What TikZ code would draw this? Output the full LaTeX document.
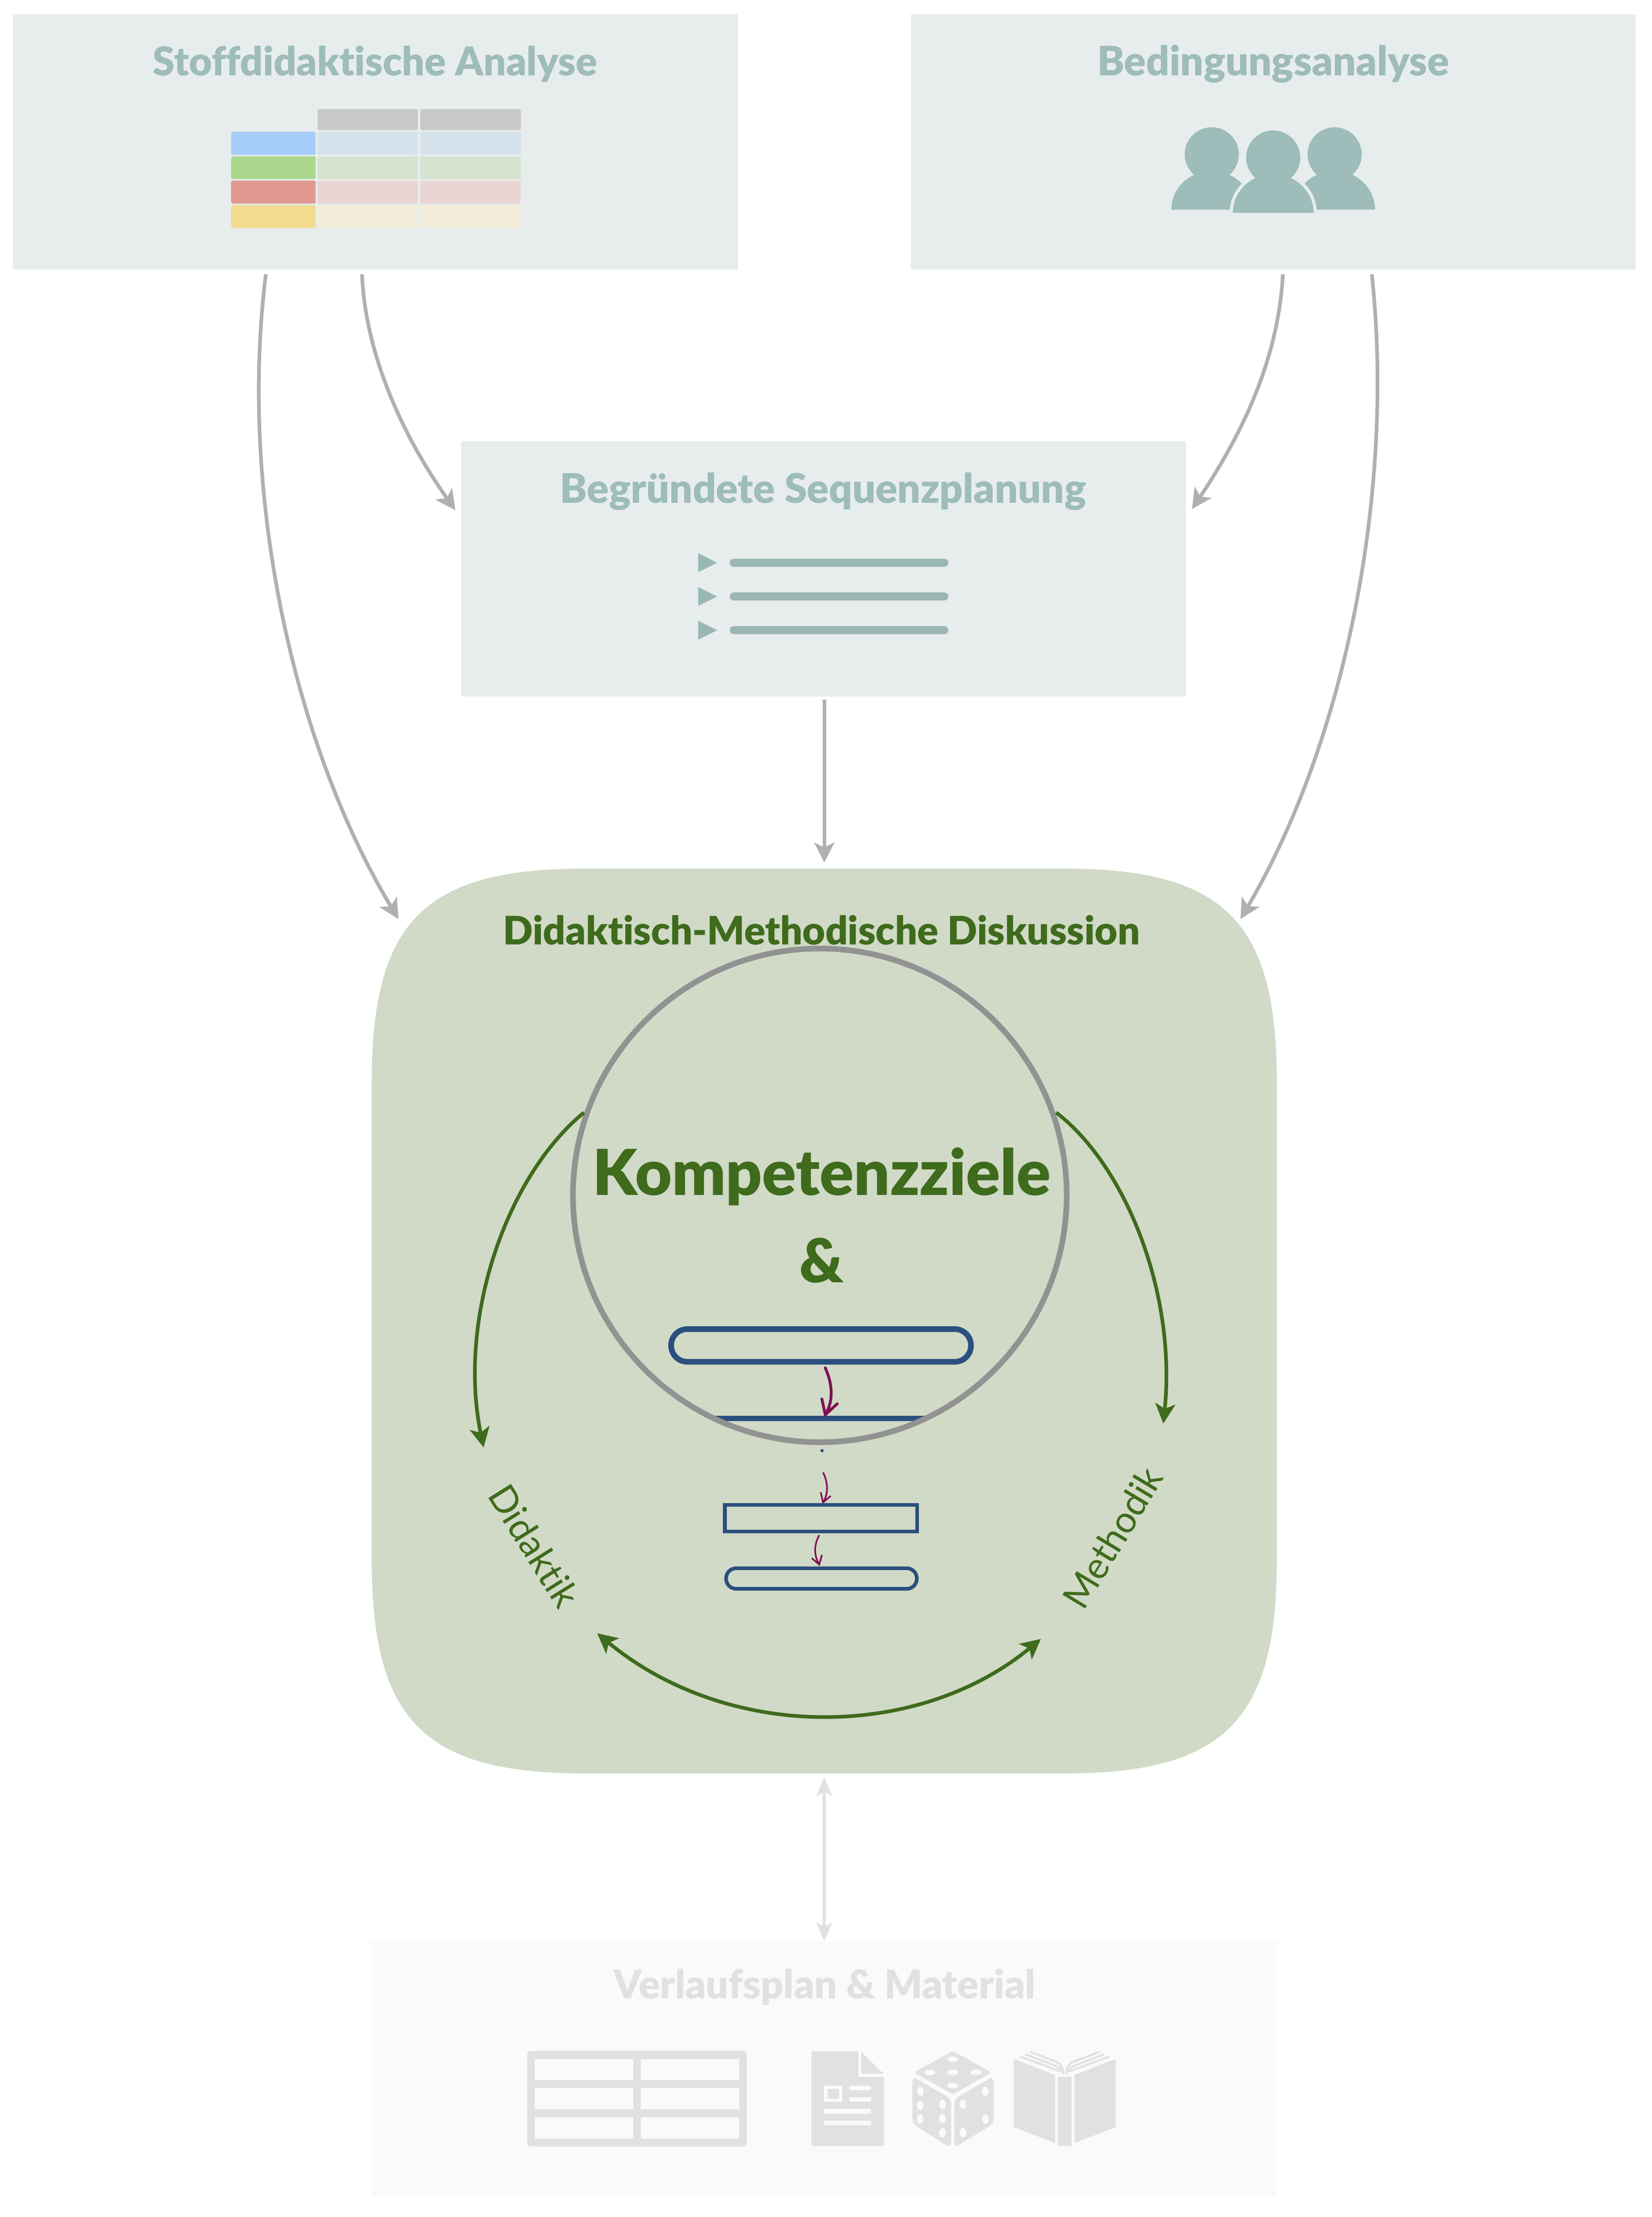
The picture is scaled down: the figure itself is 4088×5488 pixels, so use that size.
\documentclass[tikz,border=0pt]{standalone}
\usepackage{graphicx}
\usepackage{fontspec}
\usetikzlibrary{arrows.meta}
\setmainfont[Ligatures=NoCommon]{Lato}
\newfontfamily\latob[Ligatures=NoCommon]{Lato Black}
\definecolor{boxbg}{HTML}{E7EDEC}
\definecolor{boxfg}{HTML}{9DBCBA}
\definecolor{listfg}{HTML}{9AB7B4}
\definecolor{grn}{HTML}{3F6B1C}
\definecolor{grnbg}{HTML}{D0DAC6}
\definecolor{navy}{HTML}{2B4F7E}
\definecolor{maroon}{HTML}{7F0F55}
\definecolor{ringgray}{HTML}{929292}
\definecolor{arrgray}{HTML}{B0B0B0}
\definecolor{fadebg}{HTML}{FAFAFA}
\definecolor{fadefg}{HTML}{E1E1E1}
\definecolor{hdr}{HTML}{C8C8C8}
\newlength{\pxu}\setlength{\pxu}{0.1mm}
\newcommand{\fitw}[2]{\resizebox{#1\pxu}{!}{#2}}
\tikzset{
 x=0.1mm,y=-0.1mm,
 panel/.style={rectangle,fill=boxbg,draw=none,inner sep=0pt,minimum width=1794*\pxu,minimum height=632*\pxu},
 fadepanel/.style={rectangle,fill=fadebg,draw=none,inner sep=0pt,minimum width=2240*\pxu,minimum height=631*\pxu},
 ttl/.style={text=boxfg,inner sep=0pt},
 gtip/.tip={Stealth[length=14pt,width=14pt,inset=3.5pt]},
 ftip/.tip={Stealth[length=13pt,width=11pt,inset=3pt]},
 conn/.style={draw=arrgray,line width=9*\pxu,-gtip},
 fadeconn/.style={draw=fadefg,line width=8*\pxu,ftip-ftip},
 grnconn/.style={draw=grn,line width=9*\pxu,-gtip},
 cell/.style={rounded corners=4*\pxu,draw=none},
}
\begin{document}
\begin{tikzpicture}
\useasboundingbox (0,0) rectangle (4088,5488);
\fill[white] (0,0) rectangle (4088,5488);

% panels
\node[panel] (stoff) at (929,351) {};
\node[panel] (bed) at (3151,351) {};
\node[panel] (seq) at (2038,1408) {};
\node[fadepanel] (verl) at (2040,5120.5) {};
\node[ttl] (stofft) at (928,158) {\fitw{1099}{\latob Stoffdidaktische Analyse}};
\node[ttl] (bedt) at (3151,158) {\fitw{871}{\latob Bedingungsanalyse}};
\node[ttl] (seqt) at (2037,1216) {\fitw{1302}{\latob Begründete Sequenzplanung}};
\node[ttl,text=fadefg] (verlt) at (2040.5,4919) {\fitw{1043}{\latob Verlaufsplan \& Material}};

% table icon
\foreach \xa/\xb in {786/1034,1040/1289}{\fill[hdr,cell] (\xa,270) rectangle (\xb,322);}
\foreach \ya/\yb/\cl/\cr in {326/383/A5CEFB/D6E2EB,387/443/ABD88D/D4E3CE,447/504/E09890/EAD5D5,508/564/F3DB8E/F2ECD9}{
  \definecolor{cL}{HTML}{\cl}\definecolor{cR}{HTML}{\cr}
  \fill[cL,cell] (572,\ya) rectangle (781,\yb);
  \fill[cR,cell] (786,\ya) rectangle (1034,\yb);
  \fill[cR,cell] (1040,\ya) rectangle (1289,\yb);
}

% people icon
\foreach \cx in {2999,3303}{
  \fill[boxfg] (\cx,382) circle [radius=67];
  \fill[boxfg] (\cx-100,519) arc[start angle=180,end angle=0,x radius=100,y radius=-96] -- cycle;
}
\draw[boxbg,line width=16*\pxu] (3051,527) arc[start angle=180,end angle=0,x radius=100,y radius=-96];
\fill[boxfg] (3151,390) circle [radius=67];
\fill[boxfg] (3051,527) arc[start angle=180,end angle=0,x radius=100,y radius=-96] -- cycle;

% list icon
\foreach \yy in {1393,1476.5,1560}{
  \fill[listfg] (1728,\yy-23.5) -- (1775,\yy) -- (1728,\yy+23.5) -- cycle;
  \fill[listfg,rounded corners=10*\pxu] (1806,\yy-10) rectangle (2347,\yy+10);
}

% green panel
\fill[grnbg] (1450,2150) -- (2630,2150) .. controls (3030,2150) and (3160,2280) .. (3160,2680)
  -- (3160,3860) .. controls (3160,4260) and (3030,4390) .. (2630,4390)
  -- (1450,4390) .. controls (1050,4390) and (920,4260) .. (920,3860)
  -- (920,2680) .. controls (920,2280) and (1050,2150) .. (1450,2150) -- cycle;
\node[inner sep=0pt,text=grn] (dmd) at (2033,2302) {\fitw{1575}{\latob Didaktisch-Methodische Diskussion}};

% upper flow elements and ring
\draw[navy,line width=14*\pxu,rounded corners=40*\pxu] (1661,3290) rectangle (2403,3371);
\draw[navy,line width=13*\pxu] (1768,3511) -- (2290,3511);
\draw[maroon,line width=7*\pxu,line cap=round] (2042.5,3386) .. controls (2062,3430) and (2062,3470) .. (2042.5,3502);
\draw[maroon,line width=7*\pxu,line cap=round] (2034,3463) -- (2042.5,3502) -- (2072,3475);
\draw[ringgray,line width=14*\pxu] (2029,2959) circle [radius=611];
\node[inner sep=0pt,text=grn] (komp) at (2033.5,2912) {\fitw{1134}{\latob Kompetenzziele}};
\node[inner sep=0pt,text=grn] (amp) at (2033.5,3120) {\fitw{110}{\latob \&}};

% lower flow elements
\fill[navy] (2034.5,3591) circle [radius=4];
\draw[maroon,line width=4*\pxu] (2037,3645) .. controls (2050,3670) and (2050,3700) .. (2037,3719);
\draw[maroon,line width=4*\pxu] (2031,3694) -- (2037,3719) -- (2056,3703);
\draw[navy,line width=9*\pxu] (1794,3725) rectangle (2270,3791);
\draw[maroon,line width=4*\pxu] (2027.6,3800) .. controls (2014,3825) and (2014,3850) .. (2027.6,3873);
\draw[maroon,line width=4*\pxu] (2009,3857) -- (2027.6,3873) -- (2034,3849);
\draw[navy,line width=9*\pxu,rounded corners=25*\pxu] (1797,3882) rectangle (2269,3933);

% green arrows and labels
\coordinate (g1a) at (1445,2754); \coordinate (g1b) at (1197,3583);
\coordinate (g2a) at (2614,2754); \coordinate (g2b) at (2879,3524);
\coordinate (g3a) at (1478,4043); \coordinate (g3b) at (2576,4057);
\draw[grnconn] (g1a) .. controls (1250,2915) and (1132,3270) .. (g1b);
\draw[grnconn] (g2a) .. controls (2785,2885) and (2912,3200) .. (g2b);
\draw[grnconn,gtip-gtip] (g3a) .. controls (1800,4310) and (2270,4310) .. (g3b);
\node[inner sep=0pt,text=grn,rotate=-58,anchor=base west] (dida) at (1204,3701) {\fitw{337}{Didaktik}};
\node[inner sep=0pt,text=grn,rotate=59,anchor=base west] (meth) at (2682,3990) {\fitw{387}{Methodik}};

% connectors
\coordinate (a1a) at (658,679); \coordinate (a1b) at (986,2275);
\coordinate (a2a) at (896,679); \coordinate (a2b) at (1127,1263);
\coordinate (a3a) at (3175,679); \coordinate (a3b) at (2950,1260);
\coordinate (a4a) at (3395,679); \coordinate (a4b) at (3070,2275);
\coordinate (a5a) at (2040,1732); \coordinate (a5b) at (2040,2135);
\coordinate (a6a) at (2040,4400); \coordinate (a6b) at (2040,4805);
\draw[conn] (a1a) .. controls (592,1200) and (716,1825) .. (a1b);
\draw[conn] (a2a) .. controls (903,858) and (982,1058) .. (a2b);
\draw[conn] (a3a) .. controls (3164,878) and (3085,1058) .. (a3b);
\draw[conn] (a4a) .. controls (3452,1200) and (3335,1825) .. (a4b);
\draw[conn] (a5a) -- (a5b);
\draw[fadeconn] (a6a) -- (a6b);

% bottom icons, in the coordinates of a 0.98 x 3 frame
\begin{scope}[shift={(1250,5020)},x=0.10204mm,y=-0.03333mm]
  \fill[fadefg,rounded corners=8*\pxu] (54,170) rectangle (586,880);
  \foreach \ya/\yb in {230/387,447/603,663/820}{
    \fill[fadebg] (72,\ya) rectangle (311,\yb);
    \fill[fadebg] (329,\ya) rectangle (568,\yb);
  }
  % document
  \fill[fadefg] (743,174) -- (857,174) -- (857,363) -- (919,363) -- (919,876) -- (743,876) -- cycle;
  \fill[fadefg] (864,177) -- (918,340) -- (864,340) -- cycle;
  \fill[fadebg] (774,428) rectangle (818,549);
  \fill[fadefg] (782,451) rectangle (810,526);
  \fill[fadebg] (835,428) rectangle (888,462);
  \fill[fadebg] (835,515) rectangle (888,549);
  \fill[fadebg] (774,601) rectangle (888,636);
  \fill[fadebg] (774,689) rectangle (888,723);
  % die
  \fill[fadefg,rounded corners=6*\pxu] (1086,170) -- (1180,331) -- (1086,493) -- (992,331) -- cycle;
  \fill[fadefg] (995,372) .. controls (990,372) and (988,385) .. (988,395) -- (988,670) .. controls (988,700) and (992,715) .. (998,730) -- (1070,870) .. controls (1076,880) and (1082,876) .. (1082,860) -- (1082,570) .. controls (1082,540) and (1078,520) .. (1070,505) -- cycle;
  \fill[fadefg] (1177,372) .. controls (1182,372) and (1185,385) .. (1185,395) -- (1185,670) .. controls (1185,700) and (1181,715) .. (1175,730) -- (1100,870) .. controls (1096,880) and (1090,876) .. (1090,860) -- (1090,570) .. controls (1090,540) and (1094,520) .. (1102,505) -- cycle;
  \foreach \hx/\hy in {1086/232,1030/330,1086/330,1142/330,1086/428}{
    \fill[fadebg] (\hx,\hy) ellipse [x radius=13,y radius=21];
  }
  \foreach \hx/\hy in {1007/471,1007/574,1007/677,1061/567,1061/672,1061/778,1165/471,1111/567,1165/677,1111/778}{
    \fill[fadebg] (\hx,\hy) ellipse [x radius=8,y radius=35];
  }
  % book
  \fill[fadefg] (1234,230) -- (1334,349) -- (1334,855) -- (1234,736) -- cycle;
  \fill[fadefg] (1481,230) -- (1381,349) -- (1381,855) -- (1481,736) -- cycle;
  \fill[fadefg] (1341,363) rectangle (1374,876);
  \draw[fadefg,line width=5*\pxu] (1250,213) -- (1346,322);
  \draw[fadefg,line width=5*\pxu] (1261,195) -- (1330,275) .. controls (1345,295) and (1350,310) .. (1350,330);
  \draw[fadefg,line width=5*\pxu] (1273,177) -- (1340,255) .. controls (1350,275) and (1354,310) .. (1354,340);
  \draw[fadefg,line width=5*\pxu] (1465,213) -- (1369,322);
  \draw[fadefg,line width=5*\pxu] (1454,195) -- (1385,275) .. controls (1370,295) and (1365,310) .. (1365,330);
  \draw[fadefg,line width=5*\pxu] (1442,177) -- (1375,255) .. controls (1365,275) and (1361,310) .. (1361,340);
\end{scope}
\end{tikzpicture}
\end{document}
